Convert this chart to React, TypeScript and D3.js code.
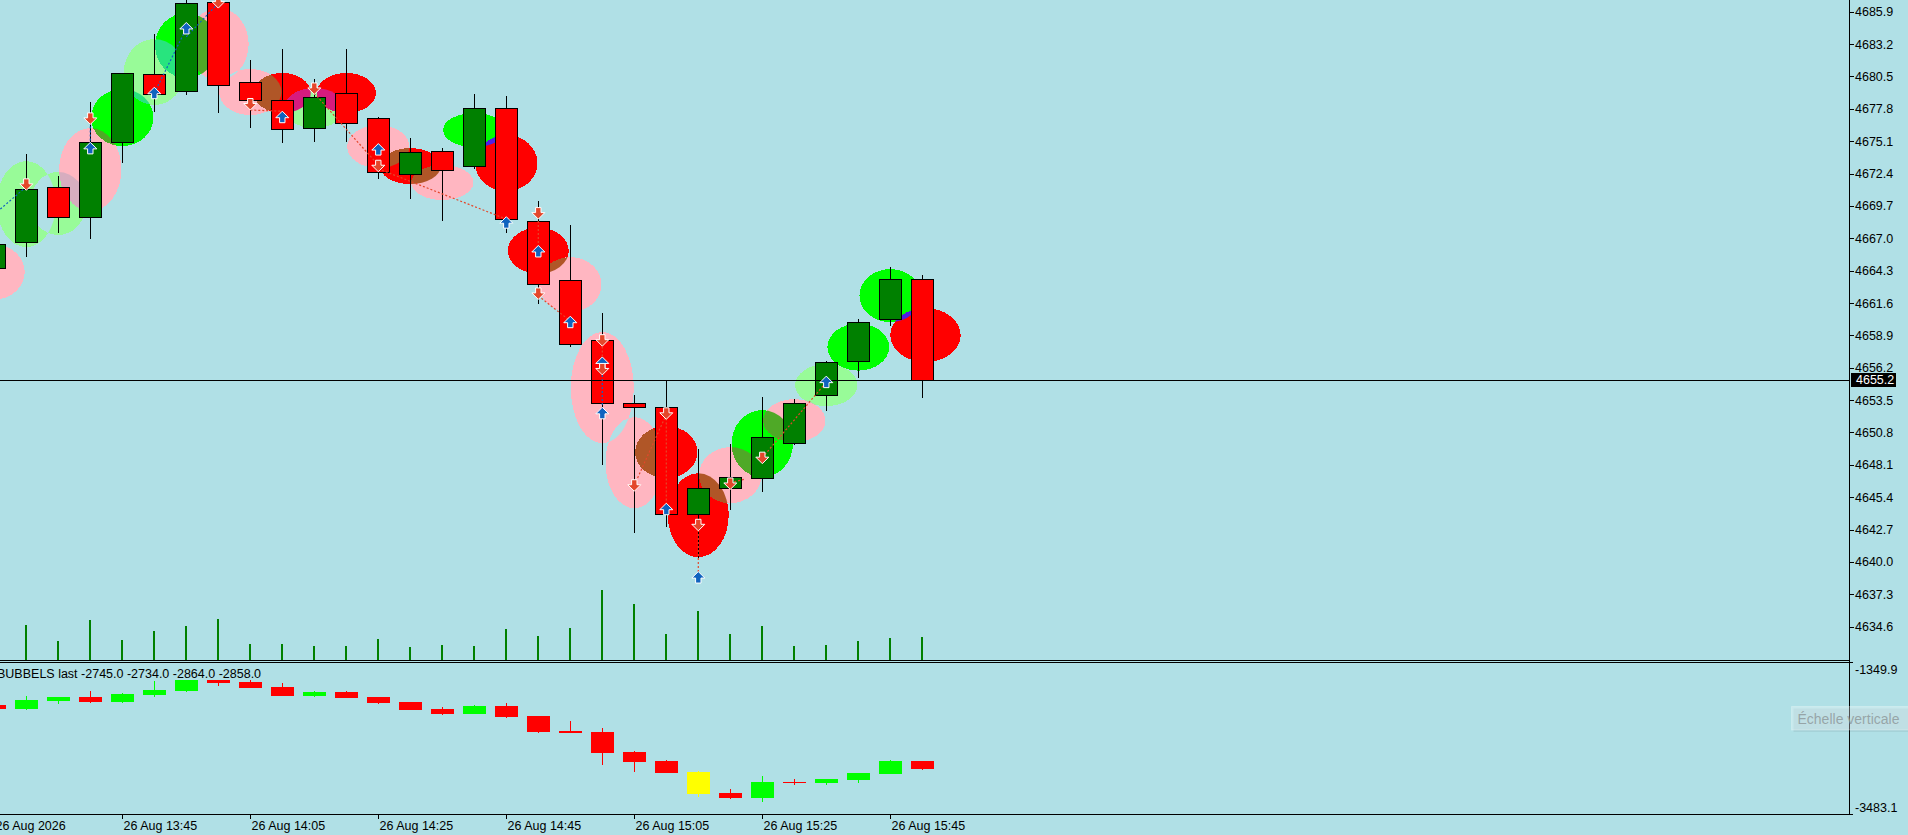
import React, { useRef, useEffect } from "react";
import * as d3 from "d3";

const WIDTH = 1908;
const HEIGHT = 835;
const BG = "#b0e0e6";
const FONT = "'Liberation Sans', Arial, sans-serif";

// 5 minute bars, 26 Aug 2026
const barTimes = [
  "13:25", "13:30", "13:35", "13:40", "13:45", "13:50", "13:55", "14:00", "14:05", "14:10",
  "14:15", "14:20", "14:25", "14:30", "14:35", "14:40", "14:45", "14:50", "14:55", "15:00",
  "15:05", "15:10", "15:15", "15:20", "15:25", "15:30", "15:35", "15:40", "15:45", "15:50",
];

const opens = [
  4664.5, 4666.7, 4671.3, 4668.8, 4675.0, 4680.7, 4679.3, 4686.7, 4680.0, 4678.5,
  4676.2, 4679.1, 4677.0, 4672.4, 4674.3, 4673.0, 4677.9, 4668.4, 4663.5, 4658.5,
  4653.3, 4652.9, 4644.0, 4646.2, 4647.0, 4649.9, 4653.9, 4656.8, 4660.3, 4663.6,
];
const highs = [
  4667.2, 4674.0, 4672.2, 4678.4, 4680.8, 4684.0, 4687.3, 4687.4, 4681.9, 4682.8,
  4680.3, 4682.8, 4677.1, 4675.4, 4674.5, 4679.0, 4678.9, 4670.1, 4668.1, 4660.8,
  4653.9, 4655.1, 4649.4, 4649.8, 4653.8, 4653.6, 4656.8, 4660.3, 4664.6, 4663.9,
];
const lows = [
  4663.9, 4665.5, 4667.5, 4667.0, 4673.4, 4677.6, 4679.0, 4677.5, 4676.3, 4675.0,
  4675.1, 4675.1, 4672.0, 4670.4, 4668.5, 4672.9, 4667.5, 4661.6, 4658.0, 4648.2,
  4642.5, 4643.0, 4640.4, 4644.4, 4645.9, 4649.8, 4652.7, 4655.4, 4659.8, 4653.8,
];
const closes = [
  4666.5, 4671.1, 4668.8, 4675.0, 4680.8, 4679.0, 4686.6, 4679.8, 4678.5, 4676.1,
  4678.8, 4676.6, 4672.5, 4674.2, 4672.7, 4677.9, 4668.6, 4663.2, 4658.2, 4653.3,
  4652.95, 4644.0, 4646.2, 4647.05, 4650.4, 4653.3, 4656.7, 4660.0, 4663.6, 4655.2,
];
const volumes = [
  220, 350, 190, 400, 200, 290, 340, 410, 160, 160, 140, 140, 210, 130, 150,
  140, 310, 240, 320, 700, 560, 260, 490, 260, 340, 140, 150, 190, 220, 230,
];

// bubbles: centre bar, centre price, half height (price), full width (bars), colour
const bubBar = [
  0, 1, 2, 3, 4, 5, 6, 7, 8, 9, 10, 11, 12, 13, 14,
  15, 16, 17, 18, 19, 20, 21, 22, 23, 24, 25, 26, 27, 28, 29.1,
];
const bubPrice = [
  4664.18, 4669.85, 4669.9, 4672.73, 4677.07, 4680.87, 4683.08, 4683.2, 4679.2, 4679.12,
  4677.86, 4679.12, 4674.65, 4673.02, 4671.65, 4676.03, 4673.27, 4665.97, 4663.14, 4654.54,
  4648.28, 4649.16, 4643.9, 4647.24, 4649.87, 4651.79, 4654.75, 4657.92, 4662.22, 4658.92,
];
const bubRadius = [
  2.29, 3.59, 2.63, 3.46, 2.38, 2.75, 2.71, 3.0, 1.92, 1.67,
  1.67, 1.67, 1.79, 1.5, 1.46, 1.42, 2.34, 1.92, 2.29, 4.63,
  3.8, 2.17, 3.5, 2.34, 2.8, 1.79, 1.75, 1.96, 2.21, 2.25,
];
const bubWidth = [
  1.9, 1.85, 1.75, 1.95, 1.95, 1.9, 1.95, 1.9, 1.95, 1.78,
  1.9, 1.85, 1.95, 1.9, 1.95, 1.95, 1.95, 1.9, 1.95, 1.97,
  1.8, 1.95, 1.9, 1.95, 1.92, 1.95, 1.95, 1.93, 1.93, 2.2,
];
const bubKind = [
  "pink", "pale", "pale", "pink", "lime", "pale", "lime", "pink", "pink", "red",
  "pale", "red", "pink", "red", "pink", "lime", "red", "red", "pink", "pink",
  "pink", "red", "red", "pink", "lime", "pink", "pale", "lime", "lime", "red",
];
const bubColors: Record<string, string> = {
  pink: "#ffb6c1",
  pale: "#98fb98",
  lime: "#00ff00",
  red: "#ff0000",
};

// signal arrows
const arrowBar = [
  3, 5, 6, 9, 12, 16, 17, 18, 19, 19, 21, 22, 26,
  1, 3, 7, 8, 10, 12, 17, 17, 19, 19, 20, 21, 22, 23, 24,
];
const arrowPrice = [
  4674.5, 4679.1, 4684.5, 4677.1, 4674.4, 4668.3, 4665.9, 4660.0, 4656.6, 4652.4, 4644.4, 4638.7, 4655.0,
  4671.5, 4677.0, 4686.7, 4678.2, 4679.5, 4673.05, 4669.1, 4662.4, 4658.5, 4656.1, 4646.4, 4652.4, 4643.1, 4646.55, 4648.7,
];
const arrowSide = [
  "buy", "buy", "buy", "buy", "buy", "buy", "buy", "buy", "buy", "buy", "buy", "buy", "buy",
  "sell", "sell", "sell", "sell", "sell", "sell", "sell", "sell", "sell", "sell", "sell", "sell", "sell", "sell", "sell",
];

// dotted links between signals
const linkFromBar = [0, 3, 5, 6, 19, 8, 10, 12, 17, 17, 19, 20, 21, 22, 23, 24];
const linkFromPrice = [
  4669.0, 4677.0, 4679.1, 4683.8, 4656.6, 4677.7, 4679.1, 4672.8,
  4669.1, 4662.2, 4658.3, 4646.4, 4652.3, 4643.0, 4646.6, 4648.7,
];
const linkToBar = [1, 3, 6, 7, 19, 9, 12, 16, 17, 18, 19, 21, 21, 22, 23.45, 26];
const linkToPrice = [
  4671.3, 4674.5, 4684.5, 4686.6, 4652.4, 4677.6, 4673.1, 4668.6,
  4666.1, 4660.1, 4656.5, 4652.3, 4644.4, 4638.7, 4646.9, 4655.0,
];
const linkSide = [
  "buy", "buy", "buy", "buy", "buy", "sell", "sell", "sell",
  "sell", "sell", "sell", "sell", "sell", "sell", "sell", "sell",
];

// BUBBELS sub window
const subOpen = [
  -1953, -2005, -1893, -1841, -1907, -1809, -1757, -1602, -1631, -1701,
  -1823, -1771, -1841, -1911, -2010, -2076, -1967, -2108, -2320, -2332,
  -2613, -2739, -2894, -3188, -3254, -3030, -3044, -3002, -2918, -2745,
];
const subHigh = [
  -1945, -1827, -1841, -1757, -1785, -1617, -1602, -1602, -1602, -1645,
  -1757, -1757, -1841, -1911, -1981, -1953, -1925, -2108, -2178, -2276,
  -2599, -2725, -2880, -3132, -2950, -2992, -2992, -2908, -2725, -2734,
];
const subLow = [
  -2012, -2019, -1935, -1925, -1921, -1841, -1771, -1687, -1711, -1823,
  -1837, -1851, -1939, -2019, -2090, -2076, -2132, -2342, -2342, -2791,
  -2889, -2904, -3240, -3268, -3310, -3072, -3072, -3044, -2918, -2864,
];
const subClose = [
  -2005, -1883, -1841, -1907, -1799, -1743, -1602, -1640, -1711, -1823,
  -1771, -1851, -1921, -2019, -2076, -1967, -2118, -2328, -2340, -2623,
  -2749, -2904, -3198, -3254, -3034, -3044, -2992, -2908, -2739, -2858,
];
const subHighlight = [22];

const priceTicks = [
  4685.9, 4683.2, 4680.5, 4677.8, 4675.1, 4672.4, 4669.7, 4667.0, 4664.3, 4661.6,
  4658.9, 4656.2, 4653.5, 4650.8, 4648.1, 4645.4, 4642.7, 4640.0, 4637.3, 4634.6,
];
const subRange = [-3483.1, -1349.9];

const xorColor = (a: string, b: string, c: string) => {
  const ca = d3.rgb(a), cb = d3.rgb(b), cc = d3.rgb(c);
  return d3.rgb(ca.r ^ cb.r ^ cc.r, ca.g ^ cb.g ^ cc.g, ca.b ^ cb.b ^ cc.b).formatHex();
};

const App: React.FC = () => {
  const svgRef = useRef<SVGSVGElement | null>(null);

  useEffect(() => {
    document.body.style.margin = "0";
    document.body.style.background = BG;
    const svg = d3.select(svgRef.current);
    svg.selectAll("*").remove();

    const axisX = 1849.5;
    const mainBottom = 660;
    const subTop = 662;
    const subBottom = 814;

    const xScale = d3.scaleLinear().domain([0, 29]).range([-5.7, 922.3]);
    const yScale = d3.scaleLinear().domain([4634.6, 4685.9]).range([626.7, 11.7]);
    const volY = d3.scaleLinear().domain([0, 700]).range([mainBottom, mainBottom - 70]);
    const subY = d3.scaleLinear().domain(subRange).range([subBottom, subTop]);
    const barPx = xScale(1) - xScale(0);

    svg.append("rect").attr("width", WIDTH).attr("height", HEIGHT).attr("fill", BG);

    const defs = svg.append("defs");
    defs.append("clipPath").attr("id", "main-clip")
      .append("rect").attr("x", 0).attr("y", 0).attr("width", axisX).attr("height", mainBottom);
    defs.append("clipPath").attr("id", "sub-clip")
      .append("rect").attr("x", 0).attr("y", subTop).attr("width", axisX).attr("height", subBottom - subTop);

    const main = svg.append("g").attr("clip-path", "url(#main-clip)");

    // bubbles, overlaps combine like MT5 XOR fills
    const bubbles = bubBar.map((b, i) => ({
      cx: xScale(b),
      cy: yScale(bubPrice[i]),
      rx: (bubWidth[i] * barPx) / 2,
      ry: yScale(bubPrice[i] - bubRadius[i]) - yScale(bubPrice[i]),
      color: bubColors[bubKind[i]],
    }));
    const gB = main.append("g").attr("shape-rendering", "crispEdges");
    bubbles.forEach((b, i) => {
      defs.append("clipPath").attr("id", `bub-${i}`)
        .append("ellipse").attr("cx", b.cx).attr("cy", b.cy).attr("rx", b.rx).attr("ry", b.ry);
      gB.append("ellipse")
        .attr("cx", b.cx).attr("cy", b.cy).attr("rx", b.rx).attr("ry", b.ry)
        .attr("fill", b.color);
    });
    bubbles.forEach((a, i) => {
      bubbles.forEach((b, j) => {
        if (j <= i) return;
        if (Math.abs(a.cx - b.cx) > a.rx + b.rx || Math.abs(a.cy - b.cy) > a.ry + b.ry) return;
        gB.append("ellipse")
          .attr("cx", b.cx).attr("cy", b.cy).attr("rx", b.rx).attr("ry", b.ry)
          .attr("clip-path", `url(#bub-${i})`)
          .attr("fill", xorColor(a.color, b.color, BG));
      });
    });

    // volumes
    main.append("g").attr("shape-rendering", "crispEdges")
      .selectAll("rect").data(volumes).join("rect")
      .attr("x", (_, i) => Math.round(xScale(i)) - 1)
      .attr("y", (d) => volY(d))
      .attr("width", 2)
      .attr("height", (d) => mainBottom - volY(d))
      .attr("fill", "#008000");

    // candles
    const gC = main.append("g").attr("shape-rendering", "crispEdges");
    opens.forEach((o, i) => {
      const c = closes[i];
      const cx = Math.round(xScale(i));
      gC.append("line")
        .attr("x1", cx + 0.5).attr("x2", cx + 0.5)
        .attr("y1", Math.round(yScale(highs[i]))).attr("y2", Math.round(yScale(lows[i])) + 1)
        .attr("stroke", "#000");
      const top = Math.round(yScale(Math.max(o, c))) + 0.5;
      const bot = Math.round(yScale(Math.min(o, c))) + 0.5;
      gC.append("rect")
        .attr("x", cx - 10.5).attr("y", top)
        .attr("width", 22).attr("height", Math.max(bot - top, 1))
        .attr("fill", c >= o ? "#008000" : "#ff0000")
        .attr("stroke", "#000");
    });

    // current price line
    const last = closes[closes.length - 1];
    main.append("line")
      .attr("x1", 0).attr("x2", axisX)
      .attr("y1", Math.round(yScale(last)) + 0.5).attr("y2", Math.round(yScale(last)) + 0.5)
      .attr("stroke", "#000").attr("shape-rendering", "crispEdges");

    // links
    const sideColor = (s: string) => (s === "buy" ? "#1063bf" : "#e4472b");
    main.append("g").selectAll("line").data(linkFromBar).join("line")
      .attr("x1", (d) => xScale(d)).attr("y1", (_, i) => yScale(linkFromPrice[i]))
      .attr("x2", (_, i) => xScale(linkToBar[i])).attr("y2", (_, i) => yScale(linkToPrice[i]))
      .attr("stroke", (_, i) => sideColor(linkSide[i]))
      .attr("stroke-width", 1.2)
      .attr("stroke-dasharray", "2,2");

    // arrows
    const upPath = "M0,-6L6.5,0.5L2.7,0.5L2.7,5.5L-2.7,5.5L-2.7,0.5L-6.5,0.5Z";
    main.append("g").selectAll("path").data(arrowBar).join("path")
      .attr("d", upPath)
      .attr("transform", (d, i) =>
        `translate(${xScale(d)},${yScale(arrowPrice[i])})${arrowSide[i] === "sell" ? " scale(1,-1)" : ""}`)
      .attr("fill", (_, i) => sideColor(arrowSide[i]))
      .attr("stroke", "#fff")
      .attr("stroke-width", 1)
      .attr("stroke-linejoin", "miter");

    // sub window candles
    const sub = svg.append("g").attr("clip-path", "url(#sub-clip)").attr("shape-rendering", "crispEdges");
    subOpen.forEach((o, i) => {
      const c = subClose[i];
      const cx = Math.round(xScale(i));
      const col = subHighlight.includes(i) ? "#ffff00" : c >= o ? "#00ff00" : "#ff0000";
      sub.append("line")
        .attr("x1", cx + 0.5).attr("x2", cx + 0.5)
        .attr("y1", Math.round(subY(subHigh[i]))).attr("y2", Math.round(subY(subLow[i])))
        .attr("stroke", col);
      const top = Math.round(subY(Math.max(o, c)));
      const bot = Math.round(subY(Math.min(o, c)));
      sub.append("rect")
        .attr("x", cx - 11).attr("y", top)
        .attr("width", 23).attr("height", Math.max(bot - top, 1))
        .attr("fill", col);
    });

    const n = subOpen.length - 1;
    svg.append("text")
      .attr("x", -3).attr("y", 678)
      .attr("font-family", FONT).attr("font-size", 12.5).attr("fill", "#000")
      .text(`BUBBELS last ${subOpen[n].toFixed(1)} ${subHigh[n].toFixed(1)} ${subLow[n].toFixed(1)} ${subClose[n].toFixed(1)}`);

    // frame lines
    const frame = svg.append("g").attr("stroke", "#000").attr("shape-rendering", "crispEdges");
    frame.append("line").attr("x1", 0).attr("x2", axisX).attr("y1", mainBottom + 0.5).attr("y2", mainBottom + 0.5);
    frame.append("line").attr("x1", 0).attr("x2", axisX).attr("y1", subTop + 0.5).attr("y2", subTop + 0.5);
    frame.append("line").attr("x1", 0).attr("x2", axisX).attr("y1", subBottom + 0.5).attr("y2", subBottom + 0.5);
    frame.append("line").attr("x1", axisX).attr("x2", axisX).attr("y1", 0).attr("y2", subBottom + 1);

    // price axis
    const pa = svg.append("g").attr("font-family", FONT).attr("font-size", 12.5);
    priceTicks.forEach((t) => {
      const y = yScale(t);
      pa.append("line")
        .attr("x1", axisX).attr("x2", axisX + 4)
        .attr("y1", Math.round(y) + 0.5).attr("y2", Math.round(y) + 0.5)
        .attr("stroke", "#000").attr("shape-rendering", "crispEdges");
      pa.append("text").attr("x", 1855).attr("y", y + 4.5).attr("fill", "#000").text(t.toFixed(1));
    });
    const ly = yScale(last);
    pa.append("rect")
      .attr("x", 1851).attr("y", Math.round(ly) - 7)
      .attr("width", 45).attr("height", 14).attr("fill", "#000");
    pa.append("text").attr("x", 1856).attr("y", ly + 4.5).attr("fill", "#fff").text(last.toFixed(1));

    // sub axis
    [subRange[1], subRange[0]].forEach((v, i) => {
      const y = subY(v);
      pa.append("line")
        .attr("x1", axisX).attr("x2", axisX + 3)
        .attr("y1", Math.round(y) + 0.5).attr("y2", Math.round(y) + 0.5)
        .attr("stroke", "#000").attr("shape-rendering", "crispEdges");
      pa.append("text")
        .attr("x", 1855).attr("y", i === 0 ? y + 12 : y - 2)
        .attr("fill", "#000").text(v.toFixed(1));
    });

    // time axis
    const ta = svg.append("g").attr("font-family", FONT).attr("font-size", 12.5);
    barTimes.forEach((t, i) => {
      if (i % 4 !== 0) return;
      const x = Math.round(xScale(i)) + 0.5;
      ta.append("line")
        .attr("x1", x).attr("x2", x).attr("y1", subBottom).attr("y2", subBottom + 5)
        .attr("stroke", "#000").attr("shape-rendering", "crispEdges");
      ta.append("text").attr("x", x + 1).attr("y", 830).attr("fill", "#000")
        .text(i === 0 ? "26 Aug 2026" : `26 Aug ${t}`);
    });

    // tooltip over the scale
    const tip = svg.append("g");
    tip.append("rect")
      .attr("x", 1793.5).attr("y", 708.5).attr("width", 125).attr("height", 23.5)
      .attr("fill", "#000").attr("fill-opacity", 0.06);
    tip.append("rect")
      .attr("x", 1791.5).attr("y", 706.5).attr("width", 125).attr("height", 23.5)
      .attr("fill", "#ffffff").attr("fill-opacity", 0.3)
      .attr("stroke", "#ffffff").attr("stroke-opacity", 0.25);
    tip.append("text")
      .attr("x", 1797.5).attr("y", 724)
      .attr("font-family", FONT).attr("font-size", 14)
      .attr("fill", "#8f9a9c").attr("fill-opacity", 0.85)
      .text("Échelle verticale");
  }, []);

  return <svg ref={svgRef} width={WIDTH} height={HEIGHT} style={{ display: "block" }} />;
};

export default App;
